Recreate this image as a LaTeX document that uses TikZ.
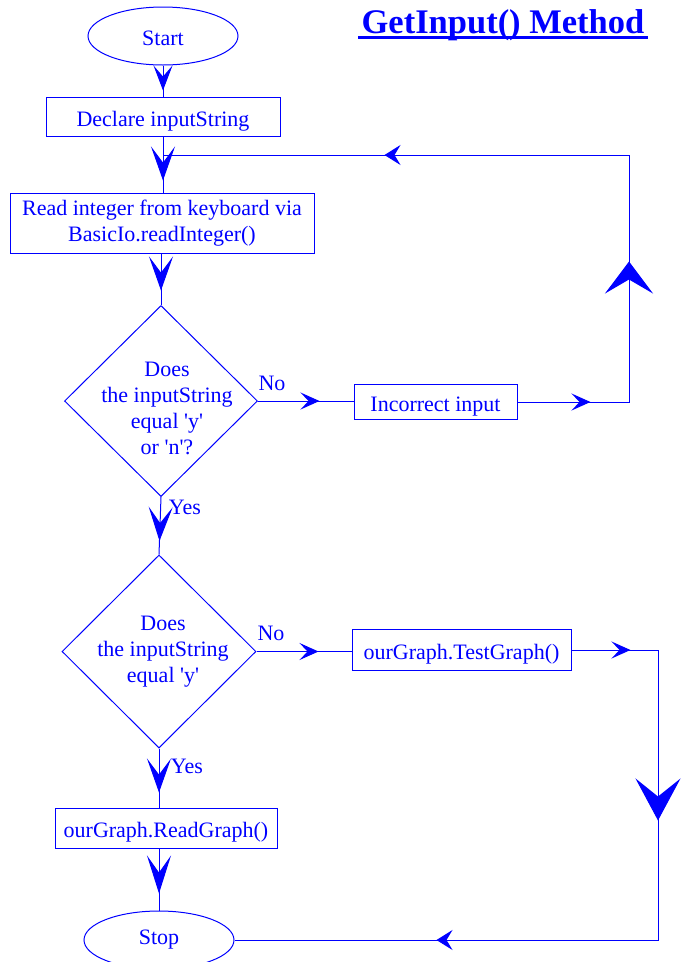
\documentclass[tikz,border=0pt]{standalone}
\usepackage{fontspec}
\setmainfont{Liberation Serif}
\usetikzlibrary{arrows.meta,decorations.markings,shapes.geometric,calc}
\definecolor{fc}{RGB}{0,0,255}

\begin{document}
\begin{tikzpicture}[x=1pt,y=-1pt,
  every node/.style={text=fc,font=\fontsize{22}{26}\selectfont},
  line/.style={draw=fc,line width=1pt},
  stepbox/.style={draw=fc,line width=1pt,inner sep=0pt,align=center},
  oneline/.style={text height=19pt,text depth=0pt},
  term/.style={draw=fc,line width=1pt,ellipse,minimum width=150,minimum height=58,inner sep=0pt},
  decision/.style={draw=fc,line width=1pt,diamond,inner sep=0pt},
  mk/.style n args={4}{postaction={decorate,decoration={markings,
      mark=at position #1 with {\arrow{Stealth[length=#2,width=#3,inset=#4]}}}}},
]
\clip (0,0) rectangle (691,962);

% title
\node[font=\fontsize{34.5}{40}\selectfont\bfseries,anchor=base] (title) at (503,33) {GetInput() Method};
\draw[fc,line width=3pt] ($(title.base west)+(0,4)$) -- ($(title.base east)+(0,4)$);

% nodes
\node[term,oneline] (start) at (163,36) {Start};
\node[stepbox,oneline,minimum width=234,minimum height=39] (decl) at (163,116.5) {Declare inputString};
\node[stepbox,minimum width=304,minimum height=60] (read) at (162,223) {Read integer from keyboard via\\BasicIo.readInteger()};
\node[decision,minimum width=193,minimum height=191] (d1) at (161,401) {};
\node[align=center] (d1t) at (167,408) {Does\\the inputString\\equal \textquotesingle y\textquotesingle\\or \textquotesingle n\textquotesingle?};
\node[stepbox,oneline,minimum width=163,minimum height=35] (inc) at (435.5,402) {Incorrect input};
\node[decision,minimum width=194,minimum height=193] (d2) at (159,651.5) {};
\node[align=center] (d2t) at (163,652) {Does\\the inputString\\equal \textquotesingle y\textquotesingle};
\node[stepbox,oneline,minimum width=219,minimum height=41] (tg) at (461.5,650) {ourGraph.TestGraph()};
\node[stepbox,oneline,minimum width=222,minimum height=40] (rg) at (166,828) {ourGraph.ReadGraph()};
\node[term] (stop) at (159,940) {Stop};

% branch labels
\node (no1) at (272,383) {No};
\node (yes1) at (185,507) {Yes};
\node (no2) at (271,633) {No};
\node (yes2) at (187,766) {Yes};

% loop-back corners
\coordinate (ra) at (629,402);
\coordinate (rb) at (629,155);
\coordinate (jn) at (163,155);
\coordinate (ta) at (658,650);
\coordinate (tb) at (658,940);

% connectors
\draw[line,mk={25pt}{25pt}{19pt}{11pt}] (start.south) -- (decl.north);
\draw[line,mk={44pt}{34pt}{24pt}{16pt}] (decl.south) -- (decl.south |- read.north);
\draw[line,mk={37pt}{34pt}{24pt}{16pt}] (read.south -| d1.north) -- (d1.north);
\draw[line,mk={61.5pt}{19pt}{17pt}{8pt}] (d1.east) -- (d1.east -| inc.west);
\draw[line,mk={73pt}{19pt}{17pt}{8pt},mk={252pt}{32pt}{48pt}{14pt},mk={603pt}{16pt}{20pt}{6pt}]
  (inc.east) -- (ra) -- (rb) -- (jn);
\draw[line,mk={44pt}{34pt}{24pt}{16pt}] (d1.south) -- (d2.north);
\draw[line,mk={62pt}{19pt}{17pt}{8pt}] (d2.east) -- (d2.east -| tg.west);
\draw[line,mk={59pt}{19pt}{17pt}{8pt},mk={257pt}{42pt}{45pt}{18pt},mk={598pt}{16pt}{20pt}{6pt}]
  (tg.east) -- (ta) -- (tb) -- (stop.east);
\draw[line,mk={44pt}{34pt}{24pt}{16pt}] (d2.south) -- (d2.south |- rg.north);
\draw[line,mk={45pt}{38pt}{24pt}{17pt}] (rg.south -| stop.north) -- (stop.north);
\end{tikzpicture}
\end{document}
